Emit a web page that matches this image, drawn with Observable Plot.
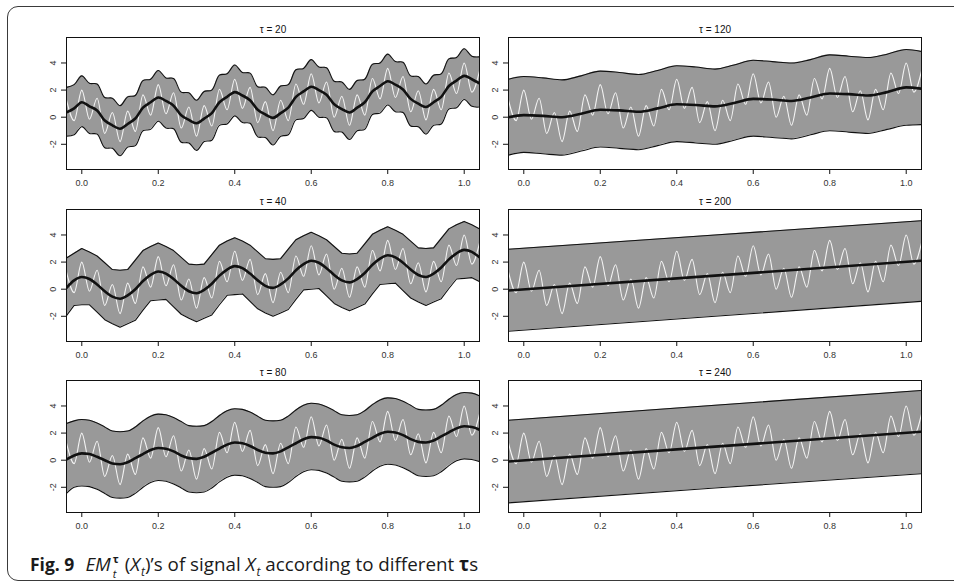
<!DOCTYPE html>
<html>
<head>
<meta charset="utf-8">
<script src="https://cdn.jsdelivr.net/npm/d3@7"></script>
<script src="https://cdn.jsdelivr.net/npm/@observablehq/plot@0.6"></script>
<style>
  html, body { margin: 0; padding: 0; background: #fff; }
  #fig { position: relative; width: 954px; height: 582px; overflow: hidden; background: #fff; }
  #border { position: absolute; left: 7px; top: 6px; width: 990px; height: 575px; box-sizing: border-box;
            border: 1px solid #3a3a3a; border-radius: 11px; }
  .panel { position: absolute; }
  #caption { position: absolute; left: 30px; top: 551px; font-family: "Open Sans", "Noto Sans", sans-serif;
             font-size: 18.8px; line-height: 22px; color: #1a1a1a; white-space: nowrap; }
  #caption b.fig { font-weight: 700; font-size: 17.5px; margin-right: 11px; }
  #caption .ss { display: inline-flex; flex-direction: column; font-size: 11px; line-height: 15px;
                 vertical-align: 8px; margin: 0 6px 0 2px; }
  #caption sub { font-size: 12px; vertical-align: -5px; line-height: 0; margin-left: 1px; }
</style>
</head>
<body>
<div id="fig">
  <div id="border"></div>
  <div id="caption"><b class="fig">Fig. 9</b><i>EM</i><span class="ss"><b>τ</b><i>t</i></span>(<i>X</i><sub><i>t</i></sub>)’s of signal <i>X</i><sub><i>t</i></sub> according to different <b>τ</b>s</div>
</div>
<script>
// Sampling grid shared by the signal and the finer panels (t = -0.04 … 1.04)
const tGrid = [-0.04, -0.02, 0, 0.02, 0.04, 0.06, 0.08, 0.1, 0.12, 0.14, 0.16, 0.18, 0.2, 0.22, 0.24, 0.26,
  0.28, 0.3, 0.32, 0.34, 0.36, 0.38, 0.4, 0.42, 0.44, 0.46, 0.48, 0.5, 0.52, 0.54, 0.56, 0.58, 0.6, 0.62,
  0.64, 0.66, 0.68, 0.7, 0.72, 0.74, 0.76, 0.78, 0.8, 0.82, 0.84, 0.86, 0.88, 0.9, 0.92, 0.94, 0.96, 0.98,
  1, 1.02, 1.04];

// Coarser grids for the smoother panels
const tCoarse = [-0.04, 0, 0.05, 0.1, 0.15, 0.2, 0.25, 0.3, 0.35, 0.4, 0.45, 0.5, 0.55, 0.6, 0.65, 0.7,
  0.75, 0.8, 0.85, 0.9, 0.95, 1, 1.04];
const tLine = [-0.04, 0.5, 1.04];

// Signal X_t (white curve), local extrema on tGrid
const signal = [1.25, -0.25,
  2.0, -0.15, 1.4, -1.2, 0.35, -1.8, 0.45, -1.05, 1.65, 0.15,
  2.4, 0.25, 1.8, -0.8, 0.75, -1.4, 0.85, -0.65, 2.05, 0.55,
  2.8, 0.65, 2.2, -0.4, 1.15, -1.0, 1.25, -0.25, 2.45, 0.95,
  3.2, 1.05, 2.6, 0.0, 1.55, -0.6, 1.65, 0.15, 2.85, 1.35,
  3.6, 1.45, 3.0, 0.4, 1.95, -0.2, 2.05, 0.55, 3.25, 1.75,
  4.0, 1.85, 3.4];

// tau = 20
const mid20 = [0.35, 0.65,
  1.1, 0.8, 0.5, -0.25, -0.6, -0.85, -0.5, -0.1, 0.7, 1.1,
  1.45, 1.2, 0.85, 0.15, -0.2, -0.45, -0.1, 0.3, 1.1, 1.5,
  1.85, 1.6, 1.25, 0.55, 0.2, -0.05, 0.3, 0.7, 1.5, 1.9,
  2.25, 2.0, 1.65, 0.95, 0.6, 0.35, 0.7, 1.1, 1.9, 2.3,
  2.65, 2.4, 2.05, 1.35, 1.0, 0.75, 1.1, 1.5, 2.3, 2.7,
  3.05, 2.8, 2.5];
const hi20 = [2.2, 2.4,
  3.05, 2.5, 2.45, 1.45, 1.4, 0.85, 1.5, 1.6, 2.7, 2.8,
  3.45, 2.9, 2.85, 1.85, 1.8, 1.25, 1.9, 2.0, 3.1, 3.2,
  3.85, 3.3, 3.25, 2.25, 2.2, 1.65, 2.3, 2.4, 3.5, 3.6,
  4.25, 3.7, 3.65, 2.65, 2.6, 2.05, 2.7, 2.8, 3.9, 4.0,
  4.65, 4.1, 4.05, 3.05, 3.0, 2.45, 3.1, 3.2, 4.3, 4.4,
  5.05, 4.5, 4.45];
const lo20 = [-1.4, -1.3,
  -0.7, -1.2, -1.25, -2.25, -2.3, -2.85, -2.2, -2.1, -1.0, -0.9,
  -0.3, -0.8, -0.85, -1.85, -1.9, -2.45, -1.8, -1.7, -0.6, -0.5,
  0.1, -0.4, -0.45, -1.45, -1.5, -2.05, -1.4, -1.3, -0.2, -0.1,
  0.5, 0.0, -0.05, -1.05, -1.1, -1.65, -1.0, -0.9, 0.2, 0.3,
  0.9, 0.4, 0.35, -0.65, -0.7, -1.25, -0.6, -0.5, 0.6, 0.7,
  1.3, 0.8, 0.75];

// tau = 40
const mid40 = [0.1, 0.65,
  0.9, 0.75, 0.35, -0.15, -0.55, -0.7, -0.45, 0.0, 0.6, 1.05,
  1.3, 1.15, 0.75, 0.25, -0.15, -0.3, -0.05, 0.4, 1.0, 1.45,
  1.7, 1.55, 1.15, 0.65, 0.25, 0.1, 0.35, 0.8, 1.4, 1.85,
  2.1, 1.95, 1.55, 1.05, 0.65, 0.5, 0.75, 1.2, 1.8, 2.25,
  2.5, 2.35, 1.95, 1.45, 1.05, 0.9, 1.15, 1.6, 2.2, 2.65,
  2.9, 2.75, 2.35];
const hi40 = [2.3, 2.65,
  3.0, 2.75, 2.45, 1.95, 1.45, 1.4, 1.45, 2.15, 2.85, 3.15,
  3.4, 3.15, 2.85, 2.35, 1.85, 1.8, 1.85, 2.55, 3.25, 3.55,
  3.8, 3.55, 3.25, 2.75, 2.25, 2.2, 2.25, 2.95, 3.65, 3.95,
  4.2, 3.95, 3.65, 3.15, 2.65, 2.6, 2.65, 3.35, 4.05, 4.35,
  4.6, 4.35, 4.05, 3.55, 3.05, 3.0, 3.05, 3.75, 4.45, 4.75,
  5.0, 4.75, 4.45];
const lo40 = [-1.95, -1.2,
  -1.15, -1.15, -1.7, -2.25, -2.55, -2.8, -2.55, -2.3, -1.55, -0.85,
  -0.8, -0.75, -1.3, -1.85, -2.15, -2.4, -2.15, -1.9, -1.15, -0.45,
  -0.4, -0.35, -0.9, -1.45, -1.75, -2.0, -1.75, -1.5, -0.75, -0.05,
  0.0, 0.05, -0.5, -1.05, -1.35, -1.6, -1.35, -1.1, -0.35, 0.35,
  0.4, 0.45, -0.1, -0.65, -0.95, -1.2, -0.95, -0.7, 0.05, 0.75,
  0.8, 0.85, 0.55];

// tau = 80
const mid80 = [0.05, 0.35,
  0.5, 0.45, 0.25, 0.0, -0.25, -0.3, -0.15, 0.15, 0.45, 0.75,
  0.9, 0.85, 0.65, 0.35, 0.15, 0.1, 0.25, 0.55, 0.85, 1.15,
  1.3, 1.25, 1.05, 0.75, 0.55, 0.5, 0.65, 0.95, 1.25, 1.55,
  1.7, 1.65, 1.45, 1.15, 0.95, 0.9, 1.05, 1.35, 1.65, 1.95,
  2.1, 2.05, 1.85, 1.55, 1.35, 1.3, 1.45, 1.75, 2.05, 2.35,
  2.5, 2.45, 2.25];
const hi80 = [2.7, 2.9,
  3.0, 2.95, 2.75, 2.45, 2.15, 2.1, 2.15, 2.45, 2.9, 3.25,
  3.4, 3.35, 3.15, 2.85, 2.55, 2.5, 2.55, 2.85, 3.3, 3.65,
  3.8, 3.75, 3.55, 3.25, 2.95, 2.9, 2.95, 3.25, 3.7, 4.05,
  4.2, 4.15, 3.95, 3.65, 3.35, 3.3, 3.35, 3.65, 4.1, 4.45,
  4.6, 4.55, 4.35, 4.05, 3.75, 3.7, 3.75, 4.05, 4.5, 4.85,
  5.0, 4.95, 4.75];
const lo80 = [-2.45, -2.0,
  -1.9, -1.95, -2.15, -2.45, -2.75, -2.8, -2.75, -2.45, -2.0, -1.65,
  -1.5, -1.55, -1.75, -2.05, -2.35, -2.4, -2.35, -2.05, -1.6, -1.25,
  -1.1, -1.15, -1.35, -1.65, -1.95, -2.0, -1.95, -1.65, -1.2, -0.85,
  -0.7, -0.75, -0.95, -1.25, -1.55, -1.6, -1.55, -1.25, -0.8, -0.45,
  -0.3, -0.35, -0.55, -0.85, -1.15, -1.2, -1.15, -0.85, -0.4, -0.05,
  0.1, 0.05, -0.1];

// tau = 120 (on tCoarse)
const mid120 = [0.0, 0.15, 0.1, 0.0, 0.25, 0.55, 0.5, 0.4, 0.65, 0.95, 0.9, 0.8, 1.05, 1.35, 1.3, 1.2,
  1.45, 1.75, 1.7, 1.6, 1.85, 2.2, 2.1];
const hi120 = [2.8, 3.0, 2.9, 2.75, 3.05, 3.4, 3.3, 3.15, 3.45, 3.8, 3.7, 3.55, 3.85, 4.2, 4.1, 4.0,
  4.25, 4.6, 4.5, 4.4, 4.65, 5.0, 4.85];
const lo120 = [-2.8, -2.6, -2.7, -2.8, -2.5, -2.2, -2.3, -2.4, -2.1, -1.8, -1.9, -2.0, -1.7, -1.4, -1.5, -1.6,
  -1.3, -1.0, -1.1, -1.2, -0.9, -0.6, -0.55];

// tau = 200 and tau = 240 (on tLine)
const mid200 = [-0.1, 1.0, 2.1];
const hi200 = [2.95, 4.0, 5.05];
const lo200 = [-3.1, -2.0, -0.9];
const mid240 = [-0.1, 1.0, 2.1];
const hi240 = [2.95, 4.05, 5.15];
const lo240 = [-3.15, -2.05, -1.0];

// Axes
const xTicks = [0, 0.2, 0.4, 0.6, 0.8, 1.0];
const yTicks = [-2, 0, 2, 4];
const xDomain = [-0.04, 1.04];
const yDomain = [-3.86, 5.88];

const panels = [
  {label: "τ = 20",  t: tGrid,   mid: mid20,  hi: hi20,  lo: lo20,  band: "catmull-rom", line: "catmull-rom", col: 0, row: 0},
  {label: "τ = 120", t: tCoarse, mid: mid120, hi: hi120, lo: lo120, band: "monotone-x",  line: "monotone-x",  col: 1, row: 0},
  {label: "τ = 40",  t: tGrid,   mid: mid40,  hi: hi40,  lo: lo40,  band: "linear",      line: "monotone-x",  col: 0, row: 1},
  {label: "τ = 200", t: tLine,   mid: mid200, hi: hi200, lo: lo200, band: "linear",      line: "linear",      col: 1, row: 1},
  {label: "τ = 80",  t: tGrid,   mid: mid80,  hi: hi80,  lo: lo80,  band: "monotone-x",  line: "monotone-x",  col: 0, row: 2},
  {label: "τ = 240", t: tLine,   mid: mid240, hi: hi240, lo: lo240, band: "linear",      line: "linear",      col: 1, row: 2}
];

const signalRows = tGrid.map((t, i) => ({t, x: signal[i]}));

const M = {left: 40, right: 6, top: 24, bottom: 26};
const frameW = 413, frameH = 132;
const colLeft = [66, 508];
const rowTop = [37, 208.5, 380];

const fig = document.getElementById("fig");

for (const p of panels) {
  const rows = p.t.map((t, i) => ({t, mid: p.mid[i], hi: p.hi[i], lo: p.lo[i]}));
  const chart = Plot.plot({
    width: M.left + frameW + M.right,
    height: M.top + frameH + M.bottom,
    marginLeft: M.left, marginRight: M.right, marginTop: M.top, marginBottom: M.bottom,
    x: {domain: xDomain, label: null},
    y: {domain: yDomain, label: null},
    style: {fontFamily: "'Liberation Sans', Arial, sans-serif", fontSize: "9px", color: "#333", background: "transparent", overflow: "visible"},
    marks: [
      Plot.areaY(rows, {x: "t", y1: "lo", y2: "hi", fill: "#999999", curve: p.band, clip: true}),
      Plot.line(rows, {x: "t", y: "hi", stroke: "#111", strokeWidth: 1.1, curve: p.band, clip: true}),
      Plot.line(rows, {x: "t", y: "lo", stroke: "#111", strokeWidth: 1.1, curve: p.band, clip: true}),
      Plot.line(signalRows, {x: "t", y: "x", stroke: "#f4f4f4", strokeWidth: 1.1, curve: "monotone-x", clip: true}),
      Plot.line(rows, {x: "t", y: "mid", stroke: "#111", strokeWidth: 2.6, curve: p.line, clip: true}),
      Plot.frame({stroke: "#111", strokeWidth: 1}),
      Plot.ruleY([yDomain[0]], {x1: xTicks[0], x2: xTicks[xTicks.length - 1], stroke: "#111"}),
      Plot.ruleX([xDomain[0]], {y1: yTicks[0], y2: yTicks[yTicks.length - 1], stroke: "#111"}),
      Plot.axisX(xTicks, {tickSize: 5, tickPadding: 5, tickFormat: d3.format(".1f"), stroke: "#111"}),
      Plot.axisY(yTicks, {tickSize: 5, tickPadding: 6, tickRotate: -90, tickFormat: d => String(d), stroke: "#111"}),
      Plot.text([p.label], {text: d => d, frameAnchor: "top", dy: -12, fontSize: 10, fill: "#111"})
    ]
  });
  chart.classList.add("panel");
  chart.style.left = (colLeft[p.col] - M.left) + "px";
  chart.style.top = (rowTop[p.row] - M.top) + "px";
  fig.appendChild(chart);
}
</script>
</body>
</html>
